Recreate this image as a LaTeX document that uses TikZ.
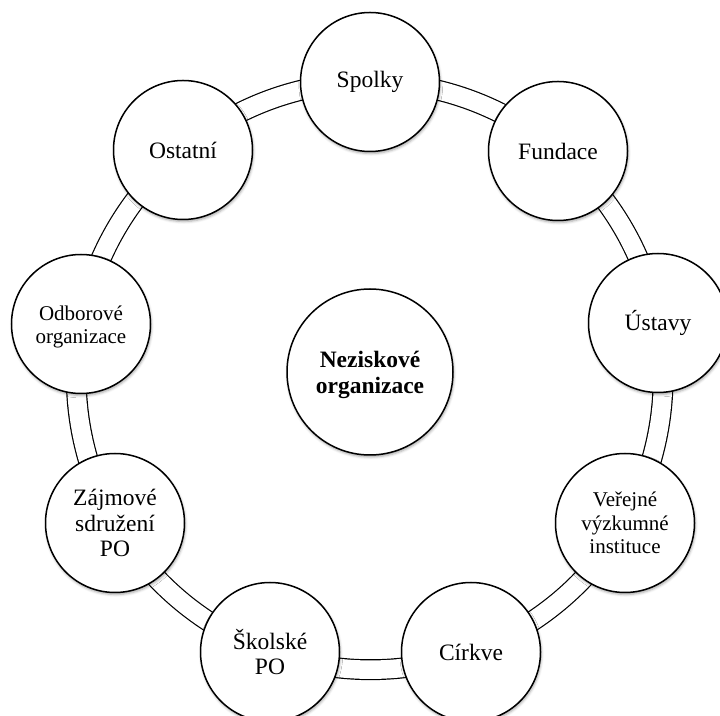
\documentclass[tikz,border=0pt]{standalone}
\usepackage{fontspec}
\setmainfont{Liberation Serif}
\usetikzlibrary{shadows.blur,backgrounds}
\newcommand{\lowtwo}[2]{\raisebox{-3.5pt}[\height][\depth]{\begin{tabular}{@{}c@{}}#1\\#2\end{tabular}}}
\begin{document}
\begin{tikzpicture}[x=1pt,y=1pt,
  bubble/.style={circle, draw=black, line width=1.5pt, fill=white,
    minimum size=139pt, inner sep=0pt, align=center,
    font=\fontsize{23.5}{25.5}\selectfont,
    blur shadow={shadow xshift=0.8pt, shadow yshift=-2pt,
      shadow blur radius=2.5pt, shadow opacity=35}},
  smalltext/.style={font=\fontsize{21}{23.5}\selectfont},
  ring/.style={draw=black, line width=1.2pt, double=white, double distance=18.5pt}]
\useasboundingbox (0,0) rectangle (720,715);
\clip (0,0) rectangle (720,715);
\node[bubble, minimum size=166pt, font=\bfseries\fontsize{23.5}{25.5}\selectfont] (ne) at (370,343) {\lowtwo{Neziskové}{organizace}};
\node[bubble] (sp) at (370,633) {Spolky};
\node[bubble] (fu) at (558,564) {Fundace};
\node[bubble] (us) at (658,392) {Ústavy};
\node[bubble, smalltext] (ve) at (625,192) {Veřejné\\výzkumné\\instituce};
\node[bubble] (ci) at (471,63) {Církve};
\node[bubble] (sk) at (270,63) {Školské\\PO};
\node[bubble] (za) at (115,192) {Zájmové\\sdružení\\PO};
\node[bubble, smalltext] (od) at (81,391) {\lowtwo{Odborové}{organizace}};
\node[bubble] (os) at (183,565) {Ostatní};
\begin{scope}[on background layer]
\foreach \a/\b in {sp/fu, fu/us, us/ve, ve/ci, ci/sk, sk/za, za/od, od/os, os/sp}
  \draw[ring] (\a.center) to[bend left=20, looseness=0.88] (\b.center);
\end{scope}
\end{tikzpicture}
\end{document}
